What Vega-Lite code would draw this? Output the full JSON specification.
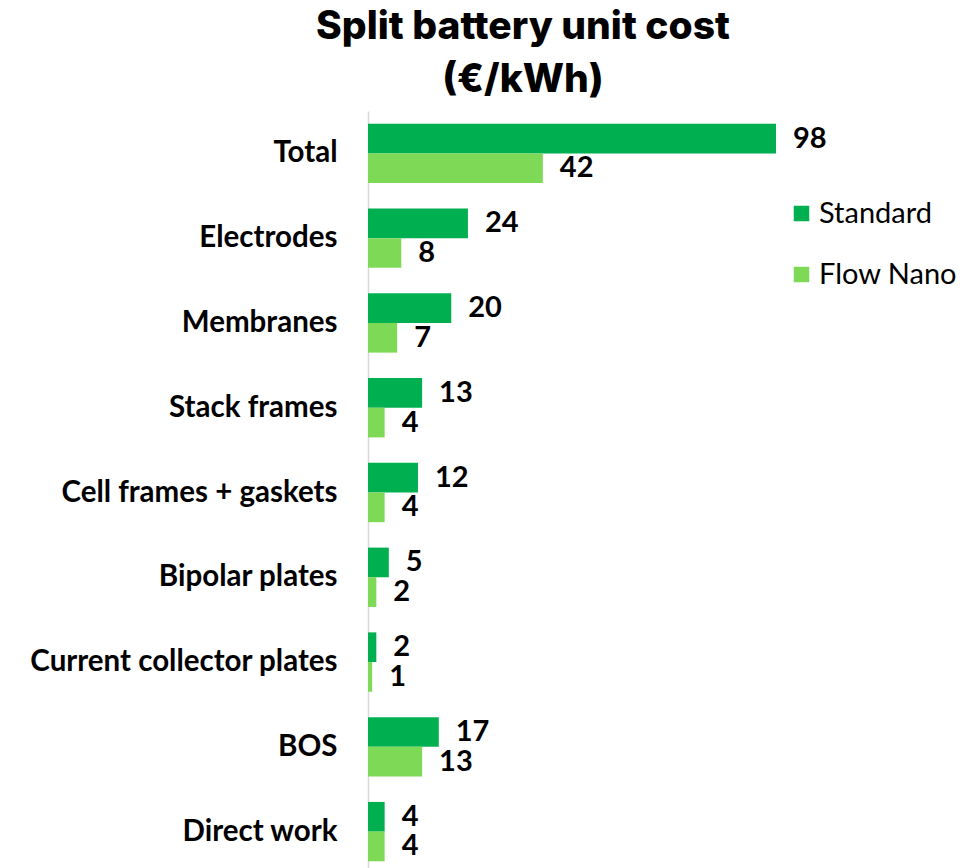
{
  "$schema": "https://vega.github.io/schema/vega-lite/v6.json",
  "width": 408,
  "height": 763,
  "autosize": {"type": "none"},
  "padding": {"left": 368, "top": 111, "right": 197, "bottom": 0},
  "background": "white",
  "title": {
    "text": ["Split battery unit cost", "(€/kWh)"],
    "font": "Inter",
    "fontSize": 39,
    "fontWeight": 800,
    "color": "#000000",
    "anchor": "middle",
    "frame": "group",
    "dx": -49,
    "lineHeight": 53,
    "offset": 11
  },
  "config": {"view": {"stroke": null}},
  "data": {
    "values": [
      {"category": "Total", "series": "Standard", "value": 98},
      {"category": "Total", "series": "Flow Nano", "value": 42},
      {"category": "Electrodes", "series": "Standard", "value": 24},
      {"category": "Electrodes", "series": "Flow Nano", "value": 8},
      {"category": "Membranes", "series": "Standard", "value": 20},
      {"category": "Membranes", "series": "Flow Nano", "value": 7},
      {"category": "Stack frames", "series": "Standard", "value": 13},
      {"category": "Stack frames", "series": "Flow Nano", "value": 4},
      {"category": "Cell frames + gaskets", "series": "Standard", "value": 12},
      {"category": "Cell frames + gaskets", "series": "Flow Nano", "value": 4},
      {"category": "Bipolar plates", "series": "Standard", "value": 5},
      {"category": "Bipolar plates", "series": "Flow Nano", "value": 2},
      {"category": "Current collector plates", "series": "Standard", "value": 2},
      {"category": "Current collector plates", "series": "Flow Nano", "value": 1},
      {"category": "BOS", "series": "Standard", "value": 17},
      {"category": "BOS", "series": "Flow Nano", "value": 13},
      {"category": "Direct work", "series": "Standard", "value": 4},
      {"category": "Direct work", "series": "Flow Nano", "value": 4}
    ]
  },
  "encoding": {
    "y": {
      "field": "category",
      "type": "nominal",
      "sort": null,
      "scale": {"paddingInner": 0.3, "paddingOuter": 0.15},
      "axis": {
        "title": null,
        "ticks": false,
        "labelFont": "Lato",
        "labelFontWeight": "bold",
        "labelFontSize": 29.5,
        "labelColor": "#000000",
        "labelPadding": 31,
        "labelLimit": 400,
        "domainColor": "#d9d9d9",
        "domainWidth": 1.5,
        "grid": false
      }
    },
    "yOffset": {
      "field": "series",
      "type": "nominal",
      "sort": ["Standard", "Flow Nano"],
      "scale": {"paddingInner": 0, "paddingOuter": 0}
    },
    "x": {
      "field": "value",
      "type": "quantitative",
      "scale": {"domain": [0, 98], "nice": false, "clamp": false},
      "axis": null
    }
  },
  "layer": [
    {
      "mark": {"type": "bar", "cornerRadius": 0},
      "encoding": {
        "color": {
          "field": "series",
          "type": "nominal",
          "sort": ["Standard", "Flow Nano"],
          "scale": {"domain": ["Standard", "Flow Nano"], "range": ["#00B050", "#7ED957"]},
          "legend": {
            "title": null,
            "orient": "none",
            "legendX": 419,
            "legendY": 88,
            "symbolType": "square",
            "symbolSize": 240,
            "symbolStrokeWidth": 0,
            "labelFont": "Lato",
            "labelFontSize": 29,
            "labelColor": "#000000",
            "labelOffset": 3,
            "rowPadding": 31,
            "symbolOffset": 0,
            "labelLimit": 300
          }
        }
      }
    },
    {
      "mark": {
        "type": "text",
        "align": "left",
        "baseline": "middle",
        "dx": 17,
        "font": "Lato",
        "fontWeight": "bold",
        "fontSize": 29,
        "color": "#000000"
      },
      "encoding": {"text": {"field": "value", "type": "quantitative"}}
    }
  ]
}
